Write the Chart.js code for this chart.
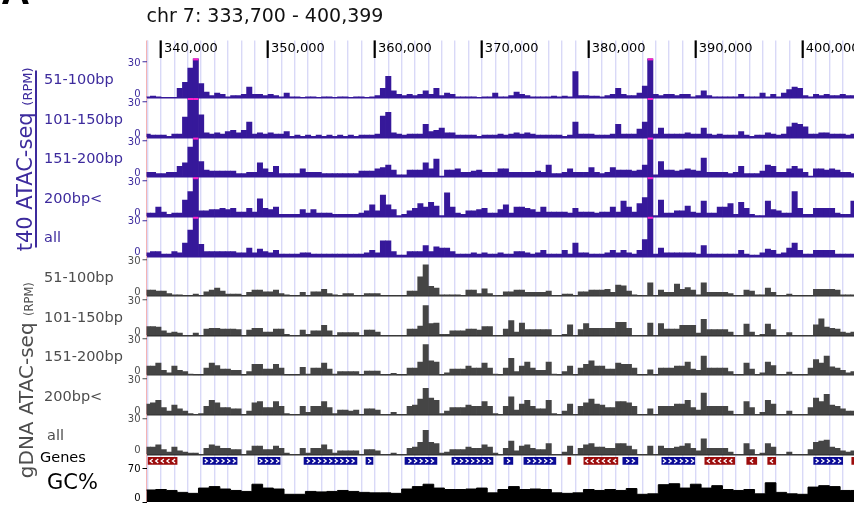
<!DOCTYPE html>
<html>
<head>
<meta charset="utf-8">
<script src="https://cdn.jsdelivr.net/npm/chart.js@4.4.1/dist/chart.umd.min.js"></script>
<style>
  html, body { margin: 0; padding: 0; background: #fff; }
</style>
</head>
<body>
<canvas id="tracks" width="854" height="505"></canvas>
<script>
// region shown and ruler
const regionTitle = "chr 7: 333,700 - 400,399";
const viewStart = 338640;
const viewEnd = 404800;
const rulerLabels = [340000, 350000, 360000, 370000, 380000, 390000, 400000];
const gridStep = 1250;

// coverage bins (500 bp)
const binStart = 338500;
const binSize = 500;
const fragLabels = ["51-100bp", "101-150bp", "151-200bp", "200bp<", "all"];
const trackTicks = [0, 30];
const trackMax = 33;

const t40_51_100 = [
  1, 1.5, 1, 0.5, 0.5, 0.5, 8, 13, 25, 45,
  12, 5, 2, 4, 3, 1, 2, 2, 3, 9,
  3, 3, 2, 3, 2, 1, 4, 1, 1, 0.5,
  1, 1, 0.5, 1, 1, 0.5, 1, 1, 0.5, 1,
  1, 0.5, 1, 2, 8, 18, 6, 3, 2, 3,
  2, 3, 6, 3, 8, 2, 4, 3, 1, 1,
  1, 1, 0.5, 1, 1, 4, 1, 1, 2, 5,
  3, 2, 1, 1, 1, 1, 1.5, 1, 1.5, 1,
  22, 2, 2, 1.5, 1.5, 1, 2, 3, 8, 3,
  2, 2, 4, 10, 45, 3, 2, 3, 3, 2,
  3, 3, 1, 2, 6, 2, 1, 1, 1, 1,
  1, 3, 1, 1, 1, 4, 1, 3, 1, 4,
  7, 9, 8, 2, 1, 3, 2, 3, 2, 2,
  3, 2, 2
];
const t40_101_150 = [
  3, 2, 2, 2, 1, 3, 3, 17, 45, 45,
  19, 4, 3, 4, 3, 5, 6, 4, 6, 13,
  3, 4, 3, 4, 3, 3, 5, 1, 2, 1,
  2, 1, 2, 1, 2, 1, 2, 1, 2, 1,
  2, 2, 2, 3, 18, 21, 4, 3, 2, 3,
  3, 3, 11, 5, 6, 8, 4, 4, 2, 2,
  2, 2, 1, 2, 2, 2, 3, 2, 3, 4,
  3, 4, 3, 2, 2, 2, 2, 2, 1, 2,
  13, 3, 3, 3, 2, 2, 2, 3, 11, 3,
  3, 3, 7, 13, 45, 3, 8, 3, 3, 3,
  3, 4, 3, 3, 8, 3, 2, 3, 2, 2,
  2, 5, 2, 1, 2, 2, 4, 3, 2, 3,
  9, 12, 11, 9, 3, 3, 4, 4, 3, 3,
  3, 2, 3
];
const t40_151_200 = [
  4, 4, 3, 3, 4, 4, 9, 12, 25, 45,
  13, 6, 5, 5, 5, 5, 5, 3, 3, 4,
  4, 12, 7, 4, 9, 3, 3, 3, 3, 7,
  4, 4, 4, 3, 3, 3, 3, 3, 3, 3,
  5, 5, 5, 7, 8, 10, 6, 2, 2, 6,
  6, 6, 12, 7, 15, 1, 6, 6, 7, 4,
  4, 5, 6, 4, 4, 4, 7, 7, 4, 4,
  4, 4, 4, 5, 4, 10, 3, 3, 4, 7,
  4, 4, 4, 8, 4, 3, 4, 8, 6, 6,
  6, 5, 6, 10, 45, 2, 13, 6, 6, 5,
  6, 7, 6, 5, 16, 4, 4, 4, 4, 3,
  4, 9, 3, 3, 3, 5, 10, 9, 4, 4,
  7, 9, 7, 4, 1, 7, 7, 6, 7, 6,
  4, 4, 3
];
const t40_200up = [
  3, 3, 8, 4, 2, 3, 3, 14, 21, 45,
  5, 5, 6, 6, 7, 6, 7, 4, 4, 7,
  4, 15, 7, 6, 8, 2, 2, 2, 2, 6,
  3, 6, 3, 3, 3, 2, 2, 2, 2, 2,
  3, 5, 10, 5, 18, 10, 6, 1, 2, 5,
  7, 11, 8, 12, 9, 1, 20, 8, 3, 2,
  5, 5, 6, 7, 3, 3, 6, 10, 3, 8,
  8, 7, 6, 4, 8, 4, 4, 4, 4, 3,
  7, 4, 4, 4, 3, 4, 4, 8, 4, 13,
  8, 4, 11, 16, 45, 1, 14, 3, 3, 5,
  5, 9, 4, 3, 13, 3, 3, 8, 8, 11,
  2, 12, 7, 2, 1, 1, 13, 6, 5, 3,
  3, 21, 7, 2, 2, 7, 7, 7, 7, 3,
  2, 2, 13
];
const t40_all = [
  3, 4, 4, 2, 2, 4, 3, 11, 22, 45,
  10, 4, 4, 4, 4, 4, 4, 3, 3, 7,
  3, 6, 4, 3, 5, 2, 2, 2, 2, 3,
  3, 2, 2, 2, 2, 2, 2, 2, 2, 2,
  2, 3, 5, 3, 13, 13, 4, 1, 1, 4,
  4, 4, 9, 4, 8, 7, 7, 4, 2, 2,
  2, 3, 2, 3, 2, 2, 3, 2, 2, 4,
  4, 3, 2, 3, 5, 2, 2, 2, 5, 2,
  11, 3, 3, 2, 2, 2, 3, 5, 3, 5,
  3, 2, 5, 14, 45, 2, 7, 3, 3, 3,
  3, 3, 3, 2, 9, 2, 2, 2, 2, 2,
  2, 5, 2, 1, 1, 3, 6, 5, 2, 3,
  7, 11, 5, 2, 2, 5, 5, 5, 5, 2,
  2, 2, 2
];
const gdna_51_100 = [
  5, 5, 4, 4, 2, 1, 1, 0, 0, 1.5,
  0, 3.5, 5, 6.5, 4, 1.5, 1.5, 1.5, 0, 3,
  5, 5, 3.5, 3.5, 5, 2, 1, 0, 0, 3,
  0, 3.5, 3.5, 5.5, 2, 1, 0, 2, 2, 0,
  0, 2, 2, 2, 0, 0, 0, 0, 0, 4,
  4, 16, 26, 8, 6.5, 1, 1, 1, 1, 0,
  5, 5, 2, 6, 2, 0.5, 0, 3.5, 3.5, 5,
  5, 3, 3, 3, 3, 4, 0, 0, 1.5, 1.5,
  0, 3.5, 3.5, 5, 5, 5, 5.5, 3, 9, 8.5,
  4, 1, 0, 0.5, 11, 0, 5, 3, 3, 10,
  5.5, 7, 5, 1, 11, 3, 3, 3, 3, 2,
  0, 0, 5, 4, 1, 1, 6.5, 3, 0, 0,
  1.5, 0, 0, 0, 0, 5.5, 5.5, 5.5, 5.5, 5,
  1, 1, 1
];
const gdna_101_150 = [
  7.5, 7.5, 7, 4, 2, 3, 2, 0, 0, 2,
  0, 5.5, 6, 6, 5.5, 5.5, 5.5, 5, 0, 4.5,
  6, 6, 3, 3, 5.5, 5.5, 1, 0, 0, 4.5,
  1, 4, 4, 8.5, 4, 0, 2.5, 2.5, 2.5, 2.5,
  0, 4.5, 4.5, 3, 0, 0, 0, 0, 0, 5.5,
  5.5, 8, 25, 10, 10.5, 1, 1, 4, 4, 4,
  5.5, 5.5, 4.5, 7.5, 7.5, 0, 0, 5.5, 12.5, 3,
  10.5, 5, 5, 5, 5, 5, 0, 0, 1, 9,
  0, 5, 10, 6, 6, 6, 6, 6, 11, 11,
  6, 0, 0, 0, 10.5, 0, 10, 5.5, 5.5, 5.5,
  8.5, 8.5, 8.5, 2, 13.5, 5, 5, 5, 5, 3,
  0, 0, 9.5, 3, 0, 1, 9.5, 5, 0, 0,
  2.5, 0, 0, 0, 0, 9, 14, 7, 6, 5.5,
  3, 2, 3
];
const gdna_151_200 = [
  7.5, 7.5, 10, 4, 2, 7.5, 4, 3, 1, 0,
  0, 6, 10, 8, 5, 5, 4, 4, 0, 3,
  9, 9, 5, 5, 9, 6, 0, 0, 0, 6.5,
  1, 6, 6, 10, 5, 1, 3, 3, 3, 3,
  0, 3.5, 3.5, 3.5, 0, 0, 1.5, 0, 0, 6,
  6, 11, 25.5, 12, 11, 0, 2, 5, 5, 5,
  7.5, 6, 6, 10, 6, 1, 0, 6, 14, 3,
  7.5, 11, 6, 4, 4, 11, 1, 0, 3, 7.5,
  0, 6, 9, 12, 7.5, 7.5, 5, 5, 10, 9,
  9, 6, 0, 0, 4.5, 0, 6, 6, 6, 7.5,
  7.5, 11, 5, 4, 16, 6, 6, 6, 6, 3,
  0, 0, 10, 5, 0, 2, 11, 8, 0, 0,
  2.5, 0, 0, 0, 6, 13, 10, 16, 7, 6,
  4, 2, 3
];
const gdna_200up = [
  9, 10, 12, 6, 3, 8, 5, 3, 1, 0,
  1, 7, 12, 10, 6, 6, 5, 5, 0, 3,
  10, 11, 6, 6, 11, 7, 1, 0, 0, 7,
  2, 7, 7, 11, 6, 1, 4, 4, 3, 4,
  0, 5, 5, 4, 0, 0, 2, 0, 0, 7,
  8, 13, 22, 14, 12, 1, 3, 6, 6, 6,
  8, 7, 7, 11, 7, 1, 0, 7, 15, 4,
  9, 12, 7, 5, 5, 12, 1, 0, 3, 9,
  0, 7, 10, 13, 9, 8, 6, 6, 11, 11,
  10, 7, 0, 0, 5, 0, 7, 7, 7, 9,
  9, 12, 6, 4, 18, 7, 7, 7, 7, 3,
  0, 0, 11, 6, 0, 2, 12, 9, 0, 0,
  3, 0, 0, 0, 6, 14, 11, 17, 8, 7,
  5, 3, 3
];
const gdna_all = [
  6, 6, 8, 4, 2, 6, 3, 2, 1, 1,
  0, 5, 8, 7, 5, 5, 4, 4, 0, 3,
  7, 7, 4, 4, 7, 5, 1, 0, 0, 5,
  1, 5, 5, 8, 4, 1, 3, 3, 3, 3,
  0, 4, 4, 3, 0, 0, 1, 0, 0, 5,
  6, 10, 20, 10, 9, 1, 2, 4, 4, 4,
  6, 5, 5, 8, 6, 1, 0, 5, 11, 3,
  7, 8, 5, 4, 4, 9, 0, 0, 2, 7,
  0, 5, 8, 9, 6, 6, 5, 5, 9, 9,
  7, 4, 0, 0, 7, 0, 7, 5, 5, 6,
  7, 9, 5, 3, 13, 5, 5, 5, 5, 2,
  0, 0, 9, 4, 0, 1, 9, 6, 0, 0,
  2, 0, 0, 0, 4, 10, 11, 12, 6, 5,
  3, 2, 3
];

// genes
const geneStart = [338790, 343930, 349070, 353370, 359160, 362810, 367200, 372060, 373930,
  378040, 379540, 383180, 386830, 390850, 394770, 396730, 401030, 404590];
const geneEnd = [341500, 347110, 351130, 358320, 359820, 365800, 371040, 372900, 376920,
  378320, 382720, 384590, 389910, 393650, 395710, 397480, 403740, 405200];
const geneStrand = ["-", "+", "+", "+", "+", "+", "+", "+", "+",
  "-", "-", "+", "+", "-", "-", "-", "+", "-"];

// GC% (1 kb windows)
const gcStart = 338500;
const gcStep = 1000;
const gcTicks = [0, 70];
const gcMax = 72;
const gcPercent = [
  25, 26, 24, 20, 18, 29, 32, 27, 24, 22,
  37, 29, 27, 16, 16, 22, 21, 22, 24, 22,
  20, 19, 19, 18, 27, 32, 37, 29, 26, 26,
  27, 29, 19, 26, 32, 26, 27, 26, 19, 18,
  19, 26, 24, 26, 24, 28, 16, 17, 36, 38,
  29, 37, 29, 34, 26, 24, 26, 17, 40, 20,
  17, 16, 31, 34, 32, 24, 24, 24
];

const FONT = "'DejaVu Sans', sans-serif";
const PURPLE = "#36189a";
const PURPLE_TXT = "#3d2b9d";
const GRAY = "#454545";
const GRAY_TXT = "#4d4d4d";
const LAVENDER = "#d9d9f7";
const EDGE = "#f5b3b3";
const AXIS_W = 40;
const TRACK_H = 39.6, GENE_H = 13, GC_H = 34.6;

const tracks = [
  { id: "y0", group: "t40", label: fragLabels[0], values: t40_51_100 },
  { id: "y1", group: "t40", label: fragLabels[1], values: t40_101_150 },
  { id: "y2", group: "t40", label: fragLabels[2], values: t40_151_200 },
  { id: "y3", group: "t40", label: fragLabels[3], values: t40_200up },
  { id: "y4", group: "t40", label: fragLabels[4], values: t40_all },
  { id: "y5", group: "gdna", label: fragLabels[0], values: gdna_51_100 },
  { id: "y6", group: "gdna", label: fragLabels[1], values: gdna_101_150 },
  { id: "y7", group: "gdna", label: fragLabels[2], values: gdna_151_200 },
  { id: "y8", group: "gdna", label: fragLabels[3], values: gdna_200up },
  { id: "y9", group: "gdna", label: fragLabels[4], values: gdna_all }
];
const laneCount = tracks.length + 2;

// ruler grid positions
const rulerGrid = [viewStart];
for (let v = rulerLabels[0] - gridStep * Math.floor((rulerLabels[0] - viewStart) / gridStep); v <= viewEnd; v += gridStep) {
  rulerGrid.push(v);
}

const binX = t40_51_100.map((_, i) => binStart + binSize * i + binSize / 2);

const datasets = tracks.map(t => ({
  type: "bar",
  label: t.group + " " + t.label,
  data: t.values.map((v, i) => ({ x: binX[i], y: v })),
  xAxisID: "xb",
  yAxisID: t.id,
  backgroundColor: t.group === "t40" ? PURPLE : GRAY,
  borderWidth: 0,
  barPercentage: 1,
  categoryPercentage: 1,
  grouped: false,
  clip: 0
}));

datasets.push({
  type: "bar",
  label: "Genes",
  indexAxis: "y",
  data: geneStart.map((s, i) => ({ x: [s, geneEnd[i]], y: "genes" })),
  xAxisID: "xg",
  yAxisID: "yGenes",
  backgroundColor: geneStrand.map(s => s === "+" ? "#0a0a96" : "#9c0c0c"),
  borderWidth: 0,
  barThickness: 7,
  grouped: false,
  clip: 0
});

datasets.push({
  type: "line",
  label: "GC%",
  data: gcPercent.map((v, j) => ({ x: gcStart + gcStep * j, y: v })),
  xAxisID: "xb",
  yAxisID: "yGC",
  stepped: true,
  fill: "origin",
  backgroundColor: "#000",
  borderColor: "#000",
  borderWidth: 1,
  pointRadius: 0,
  clip: 0
});

function isLabelled(c) {
  return c.tick && rulerLabels.includes(c.tick.value);
}
function isEdge(c) {
  return c.tick && c.tick.value === viewStart;
}

const scales = {
  x: {
    type: "linear",
    position: "top",
    min: viewStart,
    max: viewEnd,
    offset: false,
    afterBuildTicks: s => { s.ticks = rulerGrid.map(v => ({ value: v })); },
    afterFit: s => { s.height = 29.6; s.paddingLeft = 0; s.paddingRight = 0; },
    border: { display: false },
    grid: {
      offset: false,
      color: c => isEdge(c) ? EDGE : LAVENDER,
      lineWidth: c => isEdge(c) ? 1.8 : 1.4,
      tickLength: 18,
      tickColor: c => isLabelled(c) ? "#000" : (isEdge(c) ? EDGE : LAVENDER),
      tickWidth: c => isLabelled(c) ? 2.2 : (isEdge(c) ? 1.8 : 1.4)
    },
    ticks: {
      autoSkip: false,
      maxRotation: 0,
      minRotation: 0,
      align: "start",
      labelOffset: 3,
      padding: -16,
      color: "#000",
      font: { family: FONT, size: 13 },
      callback: v => rulerLabels.includes(v) ? v.toLocaleString("en-US") : ""
    }
  },
  xb: { type: "linear", display: false, min: viewStart, max: viewEnd, offset: false },
  xg: { type: "linear", display: false, min: viewStart, max: viewEnd, offset: false }
};

tracks.forEach((t, i) => {
  const txt = t.group === "t40" ? PURPLE_TXT : GRAY_TXT;
  const base = t.group === "t40" ? PURPLE : "#333";
  scales[t.id] = {
    type: "linear",
    position: "left",
    stack: "lanes",
    stackWeight: TRACK_H,
    weight: laneCount - i,
    min: 0,
    max: trackMax,
    afterBuildTicks: s => { s.ticks = trackTicks.map(v => ({ value: v })); },
    afterFit: s => { s.width = AXIS_W; s.paddingTop = 0; s.paddingBottom = 0; },
    border: { display: false },
    grid: {
      color: c => (c.tick && c.tick.value === 0) ? base : "rgba(0,0,0,0)",
      lineWidth: 1.5,
      tickLength: 4,
      tickColor: c => (c.tick && c.tick.value > 0) ? txt : "rgba(0,0,0,0)",
      tickWidth: 1
    },
    ticks: {
      color: txt,
      padding: 2,
      font: c => ({ family: FONT, size: 10, lineHeight: (c.tick && c.tick.value === 0) ? "7px" : "3px" }),
      callback: v => v === 0 ? ["0", ""] : ["", String(v)]
    }
  };
});

scales.yGenes = {
  type: "category",
  labels: ["genes"],
  offset: true,
  position: "left",
  stack: "lanes",
  stackWeight: GENE_H,
  weight: 2,
  afterFit: s => { s.width = AXIS_W; s.paddingTop = 0; s.paddingBottom = 0; },
  border: { display: false },
  grid: { display: false },
  ticks: { display: false }
};

scales.yGC = {
  type: "linear",
  position: "left",
  stack: "lanes",
  stackWeight: GC_H,
  weight: 1,
  min: 0,
  max: gcMax,
  afterBuildTicks: s => { s.ticks = gcTicks.map(v => ({ value: v })); },
  afterFit: s => { s.width = AXIS_W; s.paddingTop = 0; s.paddingBottom = 0; },
  border: { display: false },
  grid: { color: "rgba(0,0,0,0)", tickLength: 4, tickColor: "#000", tickWidth: 1 },
  ticks: {
    color: "#000",
    padding: 2,
    font: c => ({ family: FONT, size: 10, lineHeight: (c.tick && c.tick.value === 0) ? "8px" : "3px" }),
    callback: v => v === 0 ? ["0", ""] : ["", String(v)]
  }
};

// magenta marks where a bar is cut at the top of its lane
const clipMarks = {
  id: "clipMarks",
  afterDatasetsDraw(chart) {
    const ctx = chart.ctx;
    ctx.save();
    ctx.fillStyle = "#ff1ecb";
    tracks.forEach((t, k) => {
      const s = chart.scales[t.id];
      chart.getDatasetMeta(k).data.forEach((bar, i) => {
        if (t.values[i] > s.max) {
          ctx.fillRect(bar.x - bar.width / 2, s.top, bar.width, 2);
        }
      });
    });
    ctx.restore();
  }
};

// strand chevrons inside gene boxes
const geneArrows = {
  id: "geneArrows",
  afterDatasetsDraw(chart) {
    const ctx = chart.ctx;
    const area = chart.chartArea;
    const meta = chart.getDatasetMeta(tracks.length);
    ctx.save();
    ctx.beginPath();
    ctx.rect(area.left, area.top, area.right - area.left, area.bottom - area.top);
    ctx.clip();
    ctx.strokeStyle = "#fff";
    ctx.lineWidth = 1.3;
    meta.data.forEach((bar, i) => {
      const left = Math.max(Math.min(bar.x, bar.base), area.left);
      const right = Math.min(Math.max(bar.x, bar.base), area.right);
      const w = right - left;
      const n = Math.round((w - 2) / 5.6);
      const step = 5.6;
      const x0 = (left + right) / 2 - (n - 1) * step / 2;
      const dir = geneStrand[i] === "+" ? 1 : -1;
      for (let k = 0; k < n; k++) {
        const cx = x0 + k * step;
        ctx.beginPath();
        ctx.moveTo(cx - dir * 1.3, bar.y - 2);
        ctx.lineTo(cx + dir * 1.3, bar.y);
        ctx.lineTo(cx - dir * 1.3, bar.y + 2);
        ctx.stroke();
      }
    });
    ctx.restore();
  }
};

function drawVertical(ctx, parts, x, yMid, color) {
  let total = 0;
  parts.forEach(p => {
    ctx.font = p.size + "px " + FONT;
    p.w = ctx.measureText(p.text).width;
    total += p.w;
  });
  ctx.save();
  ctx.translate(x, yMid);
  ctx.rotate(-Math.PI / 2);
  ctx.fillStyle = color;
  ctx.textAlign = "left";
  ctx.textBaseline = "alphabetic";
  let pos = -total / 2;
  parts.forEach(p => {
    ctx.font = p.size + "px " + FONT;
    ctx.fillText(p.text, pos, 0);
    pos += p.w;
  });
  ctx.restore();
}

// lane names, group titles, panel letter
const sideLabels = {
  id: "sideLabels",
  afterDraw(chart) {
    const ctx = chart.ctx;
    const sc = chart.scales;
    ctx.save();
    ctx.textAlign = "left";
    ctx.textBaseline = "middle";
    ctx.font = "14.5px " + FONT;
    tracks.forEach(t => {
      const s = sc[t.id];
      ctx.fillStyle = t.group === "t40" ? PURPLE_TXT : GRAY_TXT;
      const lx = (t.group === "gdna" && t.label === "all") ? 47 : 44;
      ctx.fillText(t.label, lx, (s.top + s.bottom) / 2 + 2);
    });
    ctx.fillStyle = "#000";
    ctx.font = "14.5px " + FONT;
    ctx.fillText("Genes", 40, (sc.yGenes.top + sc.yGenes.bottom) / 2 - 3);
    ctx.font = "21px " + FONT;
    ctx.fillText("GC%", 47, (sc.yGC.top + sc.yGC.bottom) / 2 - 1.5);

    // bracket for the t40 group
    ctx.strokeStyle = PURPLE_TXT;
    ctx.lineWidth = 2;
    ctx.beginPath();
    ctx.moveTo(36, sc.y0.top + 12);
    ctx.lineTo(36, sc.y4.bottom - 9);
    ctx.stroke();

    drawVertical(ctx, [{ text: "t40 ATAC-seq ", size: 21 }, { text: "(RPM)", size: 13 }],
      32, (sc.y0.top + sc.y4.bottom) / 2 + 2, PURPLE_TXT);
    drawVertical(ctx, [{ text: "gDNA ATAC-seq ", size: 20 }, { text: "(RPM)", size: 11.5 }],
      33, (sc.y5.top + sc.yGC.bottom) / 2 + 1, GRAY_TXT);

    ctx.fillStyle = "#000";
    ctx.textBaseline = "alphabetic";
    ctx.font = "bold 40px 'Liberation Sans', sans-serif";
    ctx.fillText("A", 1, 4);
    ctx.restore();
  }
};

new Chart(document.getElementById("tracks"), {
  type: "bar",
  data: { datasets: datasets },
  options: {
    responsive: false,
    animation: false,
    devicePixelRatio: 1,
    layout: { padding: { left: 106.5, right: 0, top: 0, bottom: 3 } },
    plugins: {
      legend: { display: false },
      tooltip: { enabled: false },
      title: {
        display: true,
        text: regionTitle,
        align: "start",
        fullSize: false,
        color: "#111",
        font: { family: FONT, size: 19, weight: "normal" },
        padding: { top: 6, bottom: 0 }
      }
    },
    scales: scales
  },
  plugins: [clipMarks, geneArrows, sideLabels]
});
</script>
</body>
</html>
